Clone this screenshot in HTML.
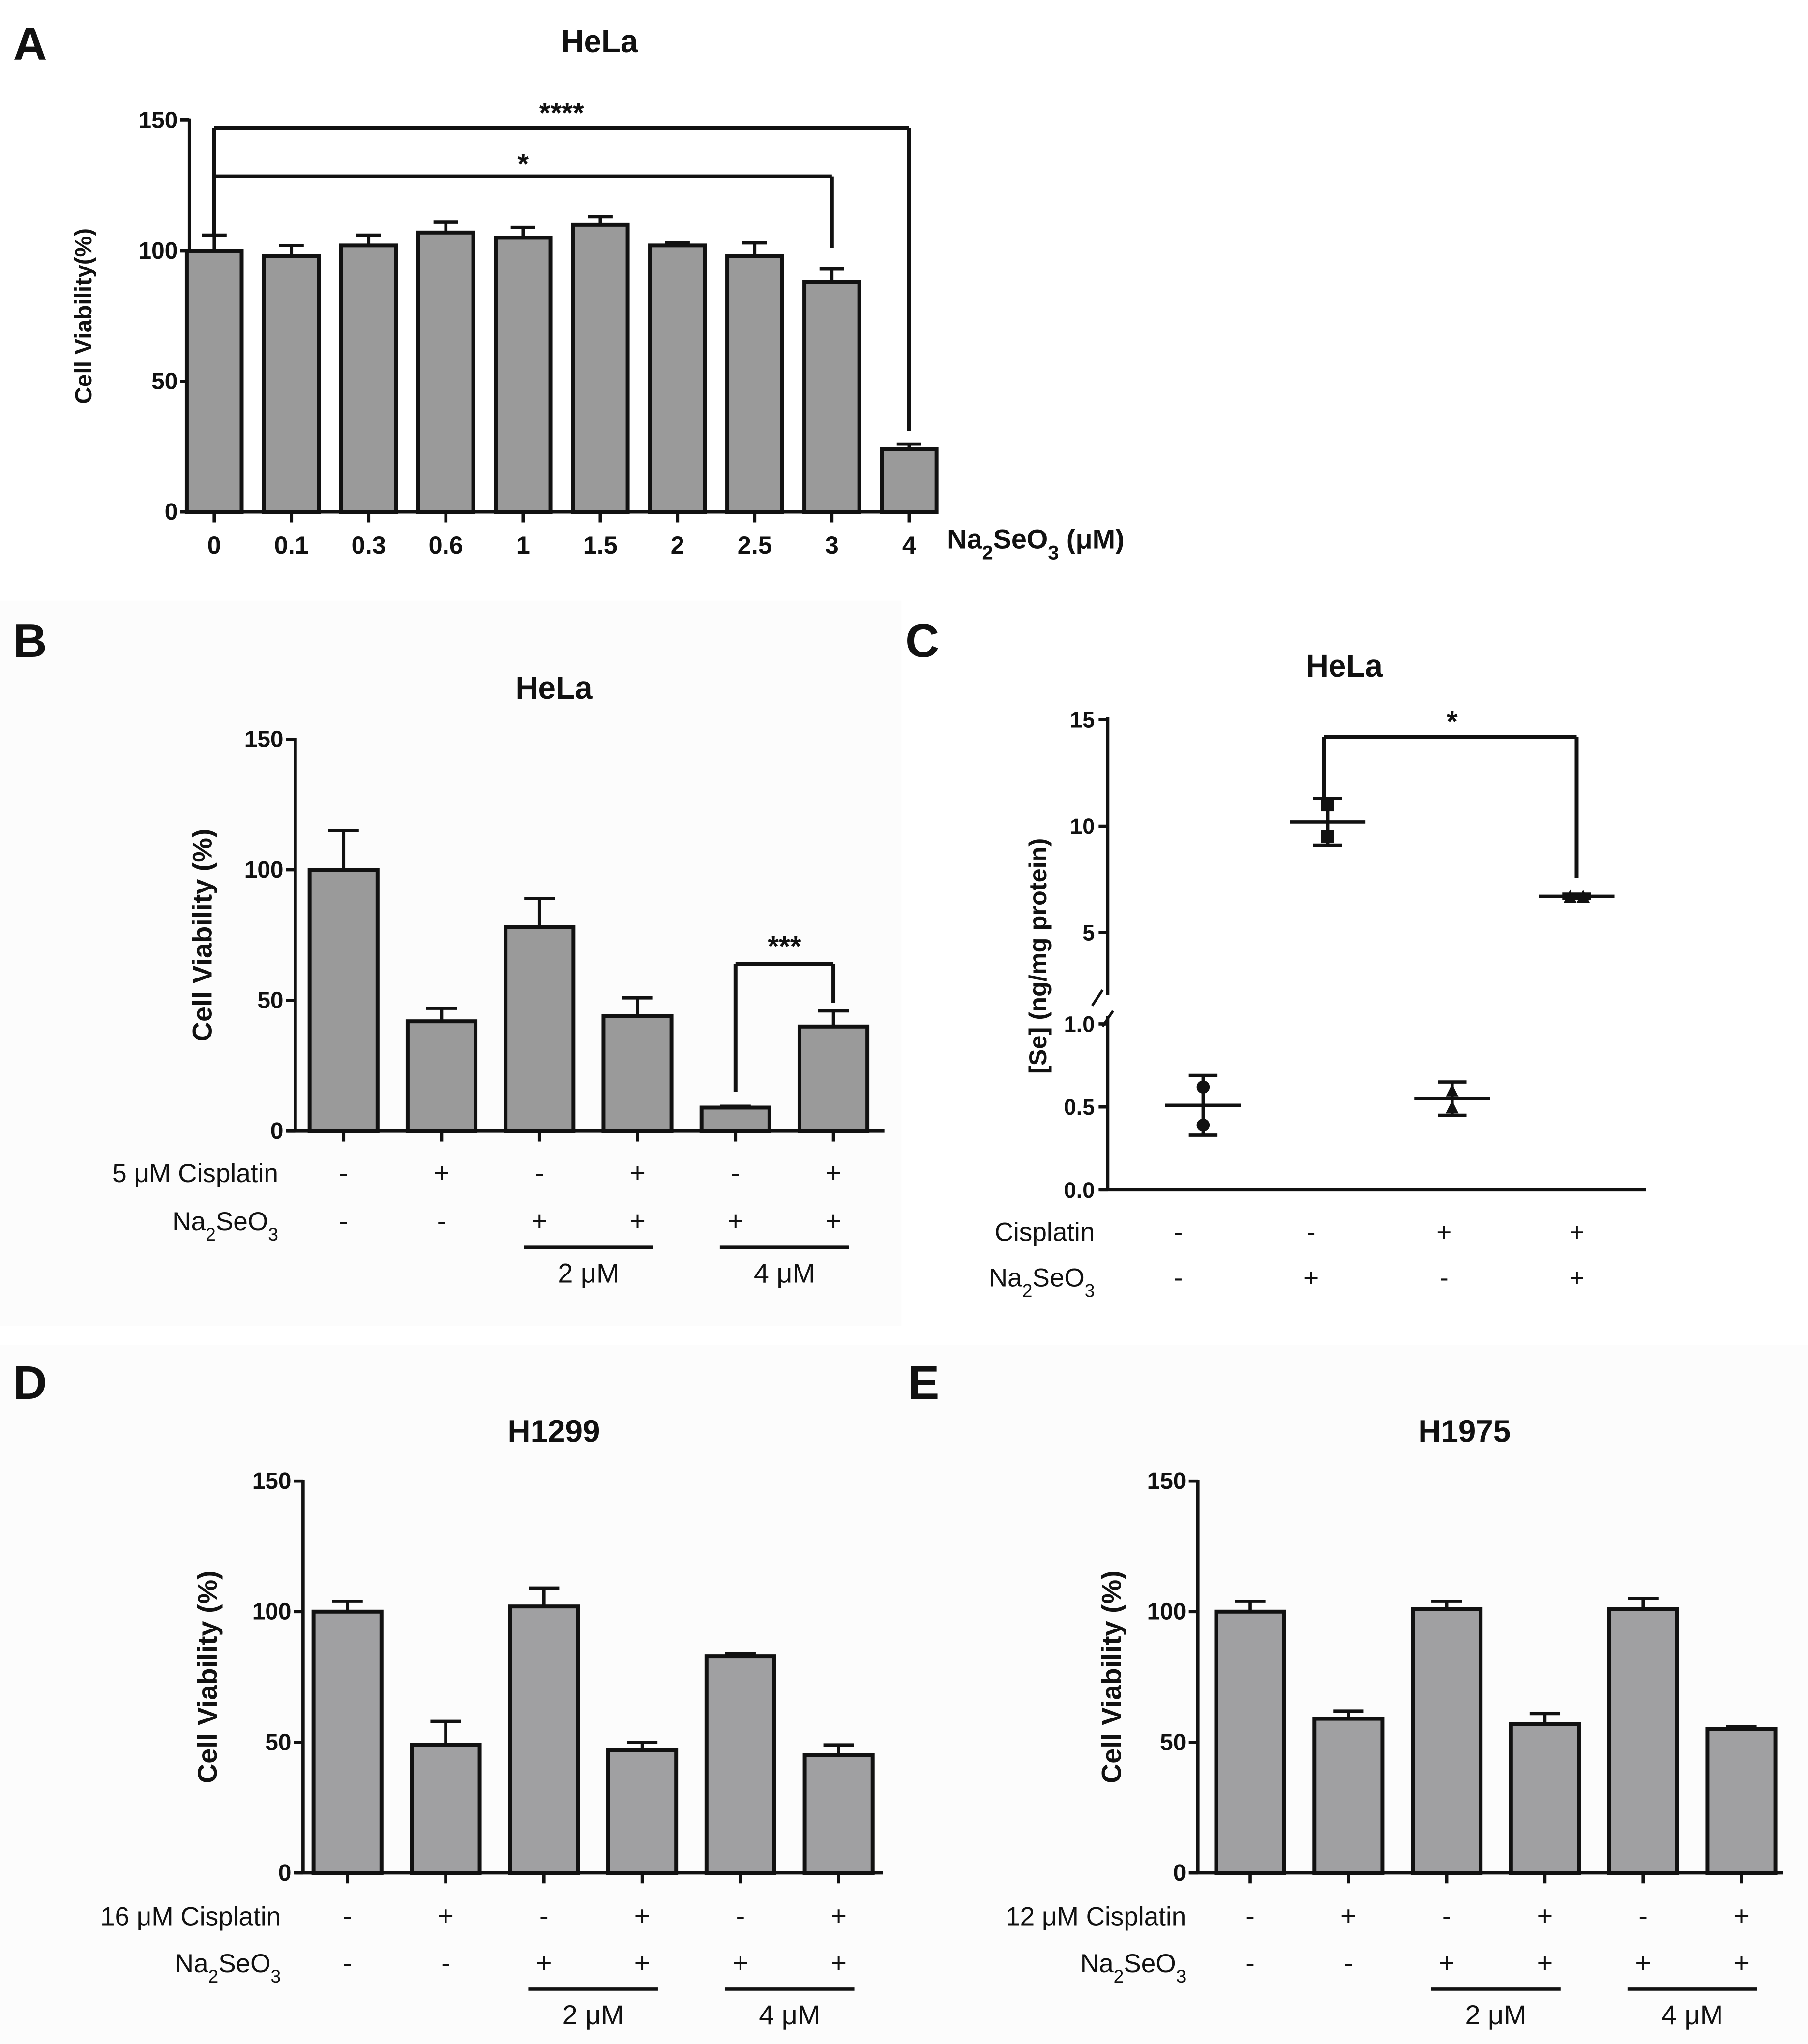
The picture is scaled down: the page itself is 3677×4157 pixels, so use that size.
<!DOCTYPE html>
<html><head><meta charset="utf-8"><style>
html,body{margin:0;padding:0;background:#fff;}
svg{display:block;}
text{font-family:"Liberation Sans",sans-serif;fill:#111;}
.b{font-weight:bold;}
</style></head><body>
<svg id="fig" width="3677" height="4157" viewBox="0 0 1384 1565" preserveAspectRatio="none" xmlns="http://www.w3.org/2000/svg">
<rect x="0" y="0" width="1384" height="1565" fill="#fff"/>
<rect x="0" y="460" width="690" height="555" fill="#fcfcfc"/>
<rect x="0" y="1030" width="1384" height="535" fill="#fcfcfc"/>
<text x="10" y="46" font-size="36" class="b">A</text>
<text x="10" y="503" font-size="36" class="b">B</text>
<text x="693" y="503" font-size="36" class="b">C</text>
<text x="10" y="1071" font-size="36" class="b">D</text>
<text x="695" y="1071" font-size="36" class="b">E</text>
<g id="gA"></g>
<g id="gB"></g>
<g id="gC"></g>
<g id="gD"></g>
<g id="gE"></g>
</svg>
<script>
// Panel A data
const aCats = ["0","0.1","0.3","0.6","1","1.5","2","2.5","3","4"];
const aVals = [100,98,102,107,105,110,102,98,88,24];
const aErr = [6,4,4,4,4,3,1,5,5,2];
// Panel B data
const bVals = [100,42,78,44,9,40];
const bErr = [15,5,11,7,0.5,6];
// Panel D data
const dVals = [100,49,102,47,83,45];
const dErr = [4,9,7,3,1,4];
// Panel E data
const eVals = [100,59,101,57,101,55];
const eErr = [4,3,3,4,4,1];
// Shared sign rows
const cisSigns = ["-","+","-","+","-","+"];
const naSigns = ["-","-","+","+","+","+"];
const yTicks = [0,50,100,150];
// Panel C data
const cCis = ["-","-","+","+"];
const cNa = ["-","+","-","+"];
const cMeans = [0.51,10.2,0.55,6.7];
const cLo = [0.33,9.1,0.45,6.6];
const cHi = [0.69,11.3,0.65,6.8];
const cPts = [[0.62,0.39],[11.0,9.5],[0.6,0.5],[6.7,6.7]];
const cTicksLow = [0,0.5,1.0];
const cTicksHigh = [5,10,15];
const cTickLabelsLow = ["0.0","0.5","1.0"];
const cTickLabelsHigh = ["5","10","15"];

const NS="http://www.w3.org/2000/svg";
function mk(parent,tag,attrs,txt){const e=document.createElementNS(NS,tag);for(const k in attrs)e.setAttribute(k,attrs[k]);if(txt!==undefined)e.textContent=txt;parent.appendChild(e);return e;}
function line(p,x1,y1,x2,y2,w,name){const e=mk(p,'line',{x1,y1,x2,y2,stroke:'#111','stroke-width':w||2.5});


return e;}
function txt(p,x,y,s,size,anchor,name,bold){const e=mk(p,'text',{x,y,'font-size':size,'text-anchor':anchor||'middle','font-weight':bold===false?'normal':'bold'},s);


return e;}

function barChart(g,cfg){
  const y=v=>cfg.y0-(v/150)*(cfg.y0-cfg.y150);
  const x=i=>cfg.x0+i*cfg.dx;
  line(g,cfg.ax,cfg.y150-1,cfg.ax,cfg.y0,2.5,'y-axis');
  line(g,cfg.ax-6,cfg.y0,cfg.xend,cfg.y0,2.5,'x-axis');
  yTicks.forEach(t=>{line(g,cfg.ax-7,y(t),cfg.ax,y(t),2.5,'y-tick');
    txt(g,cfg.ax-9,y(t)+6,String(t),cfg.tfs||18,'end','y-tick-label');});
  cfg.vals.forEach((v,i)=>{
    const cx=x(i),hw=cfg.bw/2;
    const el=cfg.err[i];
    line(g,cx,y(v),cx,y(v+el),2.5,'error-bar');
    line(g,cx-hw*0.45,y(v+el),cx+hw*0.45,y(v+el),2.5,'error-cap');
    const r=mk(g,'rect',{x:cx-hw,y:y(v),width:cfg.bw,height:cfg.y0-y(v),fill:cfg.fill,stroke:'#111','stroke-width':3});
    
    
    line(g,cx,cfg.y0,cx,cfg.y0+8,2.5,'x-tick');
  });
  txt(g,cfg.titleX,cfg.titleY,cfg.title,24,'middle','chart-title');
  const yl=txt(g,0,0,cfg.ylabel,cfg.ylfs||21,'middle','y-axis-title');
  yl.setAttribute('transform','translate('+cfg.ylx+','+cfg.yly+') rotate(-90)');
  return {x,y};
}
function signRows(g,x,cfg){
  cisSigns.forEach((s,i)=>txt(g,x(i),cfg.r1,s,21,'middle','cisplatin-sign',false));
  naSigns.forEach((s,i)=>txt(g,x(i),cfg.r2,s,21,'middle','na2seo3-sign',false));
  txt(g,cfg.lx,cfg.r1,cfg.cisLabel,20,'end','cisplatin-row-label',false);
  const t=txt(g,cfg.lx,cfg.r2,'',20,'end','na2seo3-row-label',false);
  t.innerHTML='Na<tspan baseline-shift="sub" font-size="14">2</tspan>SeO<tspan baseline-shift="sub" font-size="14">3</tspan>';
  line(g,x(2)-12,cfg.r3,x(3)+12,cfg.r3,2.5,'bracket-2um');
  line(g,x(4)-12,cfg.r3,x(5)+12,cfg.r3,2.5,'bracket-4um');
  txt(g,(x(2)+x(3))/2,cfg.r3+27,'2 μM',21,'middle','label-2um',false);
  txt(g,(x(4)+x(5))/2,cfg.r3+27,'4 μM',21,'middle','label-4um',false);
}

// Panel A
(function(){
  const g=document.getElementById('gA');
  const s=barChart(g,{ax:145,y0:392,y150:92,x0:164,dx:59.1,bw:42,xend:714,vals:aVals,err:aErr,fill:'#9a9a9a',
    title:'HeLa',titleX:459,titleY:40,ylabel:'Cell Viability(%)',ylx:70,yly:242,ylfs:18,tfs:18});
  aCats.forEach((c,i)=>txt(g,s.x(i),424,c,19,'middle','x-tick-label'));
  const t=txt(g,725,420,'',21,'start','x-axis-title');
  t.innerHTML='Na<tspan baseline-shift="sub" font-size="15">2</tspan>SeO<tspan baseline-shift="sub" font-size="15">3</tspan> (μM)';
  line(g,s.x(0),98,s.x(9),98,3,'sig-bracket-top');
  line(g,s.x(0),98,s.x(0),180,3,'sig-bracket-left');
  line(g,s.x(9),98,s.x(9),s.y(aVals[9]+aErr[9])-10,3,'sig-bracket-right');
  txt(g,(s.x(0)+s.x(9))/2,94,'****',22,'middle','sig-label-4star');
  line(g,s.x(0),135,s.x(8),135,3,'sig-bracket-top');
  line(g,s.x(8),135,s.x(8),s.y(aVals[8]+aErr[8])-16,3,'sig-bracket-right');
  txt(g,(s.x(0)+s.x(8))/2,133,'*',22,'middle','sig-label-1star');
})();

// Panel B
(function(){
  const g=document.getElementById('gB');
  const s=barChart(g,{ax:226,y0:866,y150:566,x0:263,dx:75,bw:52,xend:677,vals:bVals,err:bErr,fill:'#9a9a9a',
    title:'HeLa',titleX:424,titleY:535,ylabel:'Cell Viability (%)',ylx:162,yly:716});
  signRows(g,s.x,{r1:905,r2:942,r3:955,lx:213,cisLabel:'5 μM Cisplatin'});
  const yt=738;
  line(g,s.x(4),yt,s.x(5),yt,3,'sig-bracket-top');
  line(g,s.x(4),yt,s.x(4),s.y(bVals[4])-12,3,'sig-bracket-left');
  line(g,s.x(5),yt,s.x(5),s.y(bVals[5]+bErr[5])-6,3,'sig-bracket-right');
  txt(g,(s.x(4)+s.x(5))/2,yt-6,'***',22,'middle','sig-label-3star');
})();

// Panel D
(function(){
  const g=document.getElementById('gD');
  const s=barChart(g,{ax:232,y0:1434,y150:1134,x0:266,dx:75.2,bw:52,xend:676,vals:dVals,err:dErr,fill:'#a0a0a2',
    title:'H1299',titleX:424,titleY:1104,ylabel:'Cell Viability (%)',ylx:166,yly:1284});
  signRows(g,s.x,{r1:1474,r2:1510,r3:1523,lx:215,cisLabel:'16 μM Cisplatin'});
})();

// Panel E
(function(){
  const g=document.getElementById('gE');
  const s=barChart(g,{ax:917,y0:1434,y150:1134,x0:957,dx:75.2,bw:52,xend:1365,vals:eVals,err:eErr,fill:'#a0a0a2',
    title:'H1975',titleX:1121,titleY:1104,ylabel:'Cell Viability (%)',ylx:858,yly:1284});
  signRows(g,s.x,{r1:1474,r2:1510,r3:1523,lx:908,cisLabel:'12 μM Cisplatin'});
})();

// Panel C
(function(){
  const g=document.getElementById('gC');
  const ax=848;
  const yHi=v=>714-(v-5)*16.3;
  const yLo=v=>911-v*127;
  const yv=v=>v>=2?yHi(v):yLo(v);
  const xs=i=>921+i*95.3;
  const xl=i=>902+i*101.7;
  line(g,ax,549,ax,762,2.5,'y-axis-upper');
  line(g,ax,778,ax,912,2.5,'y-axis-lower');
  line(g,ax-12,770,ax-4,758,2,'axis-break');
  line(g,ax-4,786,ax+4,774,2,'axis-break');
  line(g,ax-6,911,1260,911,2.5,'x-axis');
  cTicksHigh.forEach((t,i)=>{line(g,ax-7,yHi(t),ax,yHi(t),2.5,'y-tick');txt(g,ax-10,yHi(t)+6,cTickLabelsHigh[i],17,'end','y-tick-label');});
  cTicksLow.forEach((t,i)=>{line(g,ax-7,yLo(t),ax,yLo(t),2.5,'y-tick');txt(g,ax-10,yLo(t)+6,cTickLabelsLow[i],17,'end','y-tick-label');});
  const yl=txt(g,0,0,'[Se] (ng/mg protein)',19,'middle','y-axis-title');
  yl.setAttribute('transform','translate(801,732) rotate(-90)');
  txt(g,1029,518,'HeLa',24,'middle','chart-title');
  const shapes=['circle','square','triangle','triangle'];
  cMeans.forEach((m,i)=>{
    const cx=xs(i);
    line(g,cx,yv(cLo[i]),cx,yv(cHi[i]),2.5,'error-bar');
    line(g,cx-11,yv(cLo[i]),cx+11,yv(cLo[i]),2.5,'error-cap');
    line(g,cx-11,yv(cHi[i]),cx+11,yv(cHi[i]),2.5,'error-cap');
    line(g,cx-29,yv(m),cx+29,yv(m),2.5,'mean-line');
    cPts[i].forEach((p,j)=>{
      const py=yv(p);let e;
      const px=cPts[i][0]===cPts[i][1]?cx+(j?5:-5):cx;
      if(shapes[i]==='circle')e=mk(g,'circle',{cx:px,cy:py,r:5,fill:'#111'});
      else if(shapes[i]==='square')e=mk(g,'rect',{x:px-5,y:py-5,width:10,height:10,fill:'#111'});
      else e=mk(g,'polygon',{points:(px-5)+','+(py+5)+' '+(px+5)+','+(py+5)+' '+px+','+(py-5),fill:'#111'});
      
      
    });
    txt(g,xl(i),950,cCis[i],20,'middle','cisplatin-sign',false);
    txt(g,xl(i),985,cNa[i],20,'middle','na2seo3-sign',false);
  });
  txt(g,838,950,'Cisplatin',20,'end','cisplatin-row-label',false);
  const t=txt(g,838,985,'',20,'end','na2seo3-row-label',false);
  t.innerHTML='Na<tspan baseline-shift="sub" font-size="14">2</tspan>SeO<tspan baseline-shift="sub" font-size="14">3</tspan>';
  line(g,xs(1)-3,564,xs(3),564,3,'sig-bracket-top');
  line(g,xs(1)-3,564,xs(1)-3,618,3,'sig-bracket-left');
  line(g,xs(3),564,xs(3),672,3,'sig-bracket-right');
  txt(g,(xs(1)+xs(3))/2,560,'*',22,'middle','sig-label-1star');
})();
</script>
</body></html>
